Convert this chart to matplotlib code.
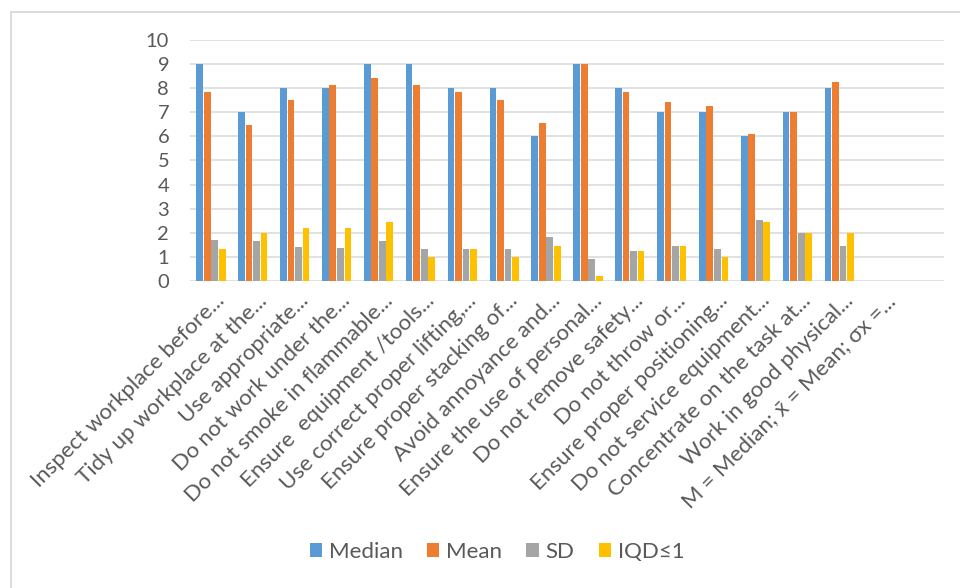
import numpy as np
import matplotlib
matplotlib.use('Agg')
import matplotlib.pyplot as plt
from matplotlib.patches import Rectangle
from matplotlib.transforms import ScaledTranslation

# --- categories (two trailing slots carry no data) ---
categories = [
    "Inspect workplace before...",
    "Tidy up workplace at the...",
    "Use appropriate...",
    "Do not work under the...",
    "Do not smoke in flammable...",
    "Ensure  equipment /tools...",
    "Use correct proper lifting,...",
    "Ensure proper stacking of...",
    "Avoid annoyance and...",
    "Ensure the use of personal...",
    "Do not remove safety...",
    "Do not throw or...",
    "Ensure proper positioning...",
    "Do not service equipment...",
    "Concentrate on the task at...",
    "Work in good physical...",
    "M = Median; x\u0304 = Mean; \u03c3x =...",
    "",
]

median = [9, 7, 8, 8, 9, 9, 8, 8, 6, 9, 8, 7, 7, 6, 7, 8]
mean = [7.85, 6.46, 7.52, 8.12, 8.44, 8.12, 7.84, 7.52, 6.56, 9.0, 7.84, 7.43, 7.25, 6.09, 7.0, 8.27]
sd = [1.70, 1.65, 1.42, 1.37, 1.65, 1.33, 1.33, 1.33, 1.81, 0.91, 1.23, 1.44, 1.33, 2.54, 2.0, 1.44]
iqd = [1.34, 2.0, 2.2, 2.2, 2.45, 1.0, 1.33, 1.0, 1.44, 0.2, 1.23, 1.44, 1.0, 2.45, 2.0, 2.0]

series = [
    ("Median", median, "#5B9BD5"),
    ("Mean", mean, "#ED7D31"),
    ("SD", sd, "#A5A5A5"),
    ("IQD\u22641", iqd, "#FFC000"),
]

plt.rcParams['font.family'] = ['Lato', 'DejaVu Sans']
TXT = "#595959"
GRID = "#D9D9D9"

fig = plt.figure(figsize=(9.6, 5.88), dpi=100)
ax = fig.add_axes([190 / 960, 1 - 281 / 588, 754 / 960, 241 / 588])

# chart frame
fig.patches.append(Rectangle((11 / 960, -0.1), 1.2, 1.1 - 12 / 588, transform=fig.transFigure,
                             fill=False, edgecolor="#D9D9D9", linewidth=1.3, zorder=0))

x = np.arange(len(median))
width = 0.16
step = 0.18
for k, (name, vals, col) in enumerate(series):
    ax.bar(x + (k - 1.5) * step, vals, width, color=col, label=name, zorder=3)

ax.set_xlim(-0.5, len(categories) - 0.5)
ax.set_ylim(0, 10)
ax.set_yticks(range(0, 11))
ax.yaxis.grid(True, color=GRID, linewidth=1.1, zorder=0)
for s in ax.spines.values():
    s.set_visible(False)

ax.tick_params(axis='y', length=0, pad=15, labelsize=14.5, labelcolor=TXT)
ax.tick_params(axis='x', length=0, pad=15, labelsize=16, labelcolor=TXT)
ax.set_xticks(np.arange(len(categories)))
ax.set_xticklabels(categories, rotation=45, ha='right', va='baseline', rotation_mode='anchor')
shift = ScaledTranslation(15 / 100, 0, fig.dpi_scale_trans)
for lab in ax.get_xticklabels():
    lab.set_transform(lab.get_transform() + shift)

fig.legend(loc='center', bbox_to_anchor=(497 / 960, 1 - 552 / 588), ncol=4, frameon=False,
           fontsize=16, handlelength=0.55, handleheight=0.55, handletextpad=0.3,
           columnspacing=1.1, labelcolor=TXT)

fig.savefig("out.png", dpi=100)
